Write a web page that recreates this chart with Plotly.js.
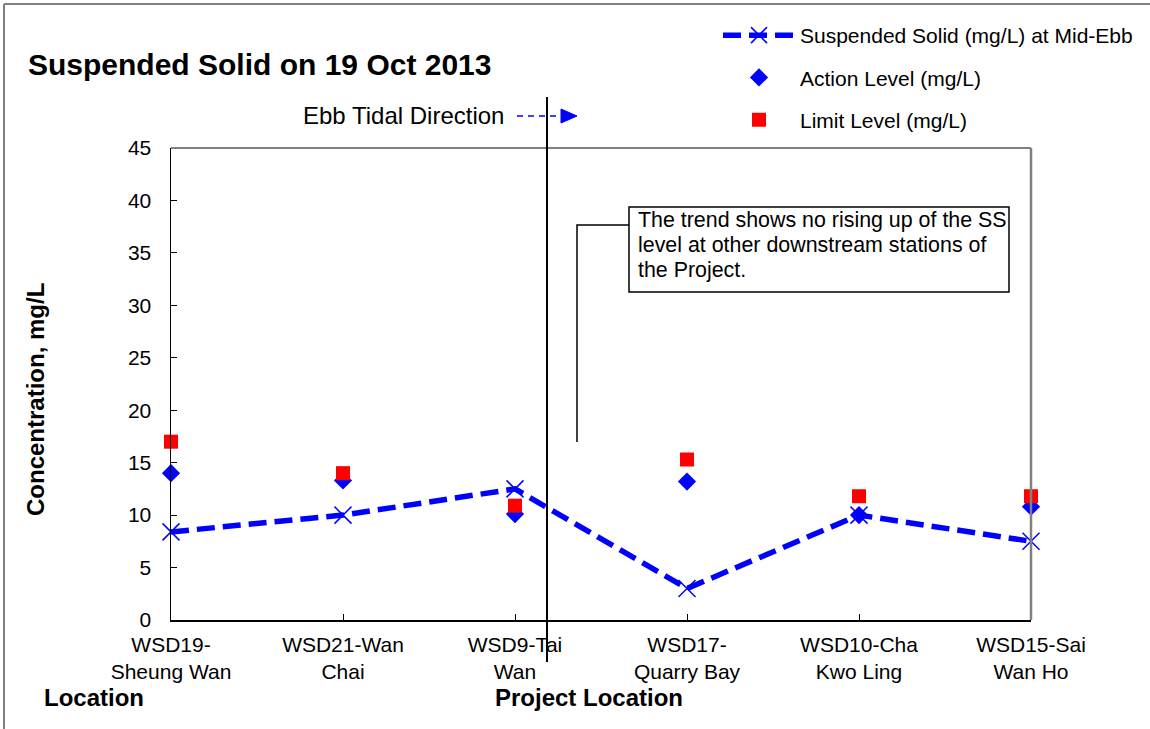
<!DOCTYPE html>
<html>
<head>
<meta charset="utf-8">
<script src="https://cdn.plot.ly/plotly-3.0.1.min.js"></script>
<style>html,body{margin:0;padding:0;background:#fff;}#chart{width:1150px;height:729px;}</style>
</head>
<body>
<div id="chart"></div>
<script>
// ---- data ----
const stations = ["WSD19-<br>Sheung Wan", "WSD21-Wan<br>Chai", "WSD9-Tai<br>Wan", "WSD17-<br>Quarry Bay", "WSD10-Cha<br>Kwo Ling", "WSD15-Sai<br>Wan Ho"];
const stationIndex = [0, 1, 2, 3, 4, 5];
const suspendedSolid = [8.4, 10.0, 12.5, 3.0, 10.0, 7.5];
const actionLevel = [14.0, 13.3, 10.1, 13.2, 10.0, 10.8];
const limitLevel = [17.0, 14.0, 10.9, 15.3, 11.8, 11.8];
const yTicks = [0, 5, 10, 15, 20, 25, 30, 35, 40, 45];
const calloutLines = ["The trend shows no rising up of the SS", "level at other downstream stations of", "the Project."];

// ---- layout helpers (pixel -> paper) ----
const W = 1150, H = 729;
const L = 171, R = 1031, T = 148, B = 620;
const px = x => (x - L) / (R - L);
const py = y => (B - y) / (B - T);
const FONT = "Liberation Sans, Arial, sans-serif";

const traces = [
  {
    x: stationIndex, y: suspendedSolid, type: "scatter", mode: "lines+markers",
    name: "Suspended Solid (mg/L) at Mid-Ebb", legendgroup: "a",
    line: {color: "#0000FF", width: 5.5, dash: "18px,8px"},
    marker: {symbol: "x-thin-open", size: 17, color: "#0000FF", line: {color: "#0000FF", width: 1.5}},
    cliponaxis: false
  },
  {
    x: stationIndex, y: actionLevel, type: "scatter", mode: "markers",
    name: "Action Level (mg/L)", legendgroup: "b",
    marker: {symbol: "diamond", size: 14, color: "#0000FF"},
    cliponaxis: false
  },
  {
    x: stationIndex, y: limitLevel, type: "scatter", mode: "markers",
    name: "Limit Level (mg/L)", legendgroup: "c",
    marker: {symbol: "square", size: 14, color: "#FF0000"},
    cliponaxis: false
  }
];

const calloutAnnotations = calloutLines.map((t, i) => ({
  text: t, xref: "paper", yref: "paper", x: px(636), y: py(220 + i * 25),
  xanchor: "left", yanchor: "middle", showarrow: false,
  font: {family: FONT, size: 21.4, color: "#000"}
}));

const layout = {
  width: W, height: H,
  margin: {l: L, r: W - R, t: T, b: H - B, pad: 0},
  paper_bgcolor: "#fff", plot_bgcolor: "#fff",
  font: {family: FONT, size: 21, color: "#000"},
  showlegend: true,
  legend: {
    x: px(718), y: py(15), xanchor: "left", yanchor: "top",
    font: {family: FONT, size: 21, color: "#000"},
    bgcolor: "rgba(0,0,0,0)", borderwidth: 0,
    traceorder: "grouped", tracegroupgap: 12, itemwidth: 72
  },
  xaxis: {
    range: [0, 5], tickvals: stationIndex, ticktext: stations,
    showgrid: false, zeroline: false,
    showline: true, linecolor: "#000", linewidth: 1.5,
    ticks: "inside", ticklen: 6, tickcolor: "#000", tickwidth: 1,
    tickfont: {family: FONT, size: 21, color: "#000"},
    ticklabelstandoff: 5,
    fixedrange: true
  },
  yaxis: {
    range: [0, 45], tickvals: yTicks,
    showgrid: false, zeroline: false,
    showline: true, linecolor: "#000", linewidth: 1.5,
    ticks: "inside", ticklen: 6, tickcolor: "#000", tickwidth: 1,
    tickfont: {family: FONT, size: 21, color: "#000"},
    ticklabelstandoff: 14,
    fixedrange: true
  },
  shapes: [
    // plot area top & right border (gray)
    {type: "line", xref: "paper", yref: "paper", x0: 0, x1: 1, y0: 1, y1: 1, line: {color: "#808080", width: 2}},
    {type: "line", xref: "paper", yref: "paper", x0: 1, x1: 1, y0: 0, y1: 1, line: {color: "#808080", width: 2.5}},
    // outer chart border (left & top)
    {type: "line", xref: "paper", yref: "paper", x0: px(4), x1: px(4), y0: py(4), y1: py(729), line: {color: "#808080", width: 2}},
    {type: "line", xref: "paper", yref: "paper", x0: px(4), x1: px(1150), y0: py(4), y1: py(4), line: {color: "#808080", width: 2}},
    // vertical project divider
    {type: "line", xref: "paper", yref: "paper", x0: px(547), x1: px(547), y0: py(97), y1: py(662), line: {color: "#000", width: 2}},
    // ebb tidal direction arrow
    {type: "line", xref: "paper", yref: "paper", x0: px(517), x1: px(562), y0: py(116), y1: py(116), line: {color: "#0000FF", width: 1.5, dash: "6px,5px"}},
    {type: "path", xref: "paper", yref: "paper",
     path: `M ${px(561)} ${py(109)} L ${px(577)} ${py(116)} L ${px(561)} ${py(123)} Z`,
     fillcolor: "#0000FF", line: {color: "#0000FF", width: 1}},
    // callout box and connector
    {type: "rect", xref: "paper", yref: "paper", x0: px(629), x1: px(1009), y0: py(207), y1: py(292),
     fillcolor: "#fff", line: {color: "#000", width: 1.5}},
    {type: "path", xref: "paper", yref: "paper",
     path: `M ${px(629)} ${py(225)} L ${px(577)} ${py(225)} L ${px(577)} ${py(442)}`,
     line: {color: "#000", width: 1.5}}
  ],
  annotations: [
    {text: "<b>Suspended Solid on 19 Oct 2013</b>", xref: "paper", yref: "paper", x: px(26), y: py(64),
     xanchor: "left", yanchor: "middle", showarrow: false, font: {family: FONT, size: 30, color: "#000"}},
    {text: "Ebb Tidal Direction", xref: "paper", yref: "paper", x: px(506), y: py(116),
     xanchor: "right", yanchor: "middle", showarrow: false, font: {family: FONT, size: 24, color: "#000"}},
    {text: "<b>Concentration, mg/L</b>", xref: "paper", yref: "paper", x: px(35), y: py(400),
     xanchor: "center", yanchor: "middle", textangle: -90, showarrow: false, font: {family: FONT, size: 24, color: "#000"}},
    {text: "<b>Location</b>", xref: "paper", yref: "paper", x: px(42), y: py(697),
     xanchor: "left", yanchor: "middle", showarrow: false, font: {family: FONT, size: 24, color: "#000"}},
    {text: "<b>Project Location</b>", xref: "paper", yref: "paper", x: px(493), y: py(697),
     xanchor: "left", yanchor: "middle", showarrow: false, font: {family: FONT, size: 24, color: "#000"}}
  ].concat(calloutAnnotations)
};

Plotly.newPlot("chart", traces, layout, {displayModeBar: false, staticPlot: true});
</script>
</body>
</html>
